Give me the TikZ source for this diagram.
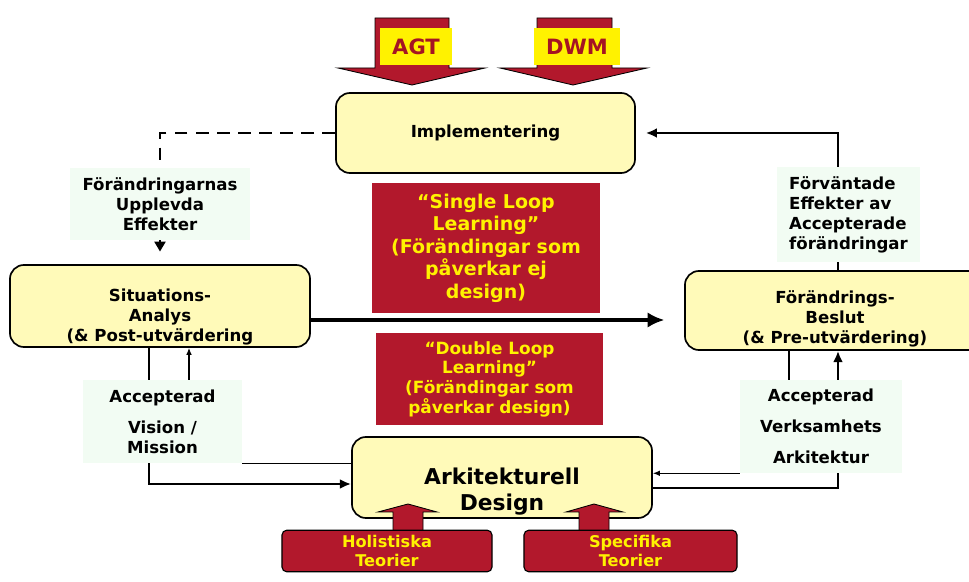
\documentclass[tikz,border=0pt]{standalone}
\usepackage{fontspec}
\setmainfont{DejaVu Sans}
\usetikzlibrary{arrows.meta}

\definecolor{boxyellow}{RGB}{255,250,185}
\definecolor{loopred}{RGB}{178,24,44}
\definecolor{notegreen}{RGB}{242,252,243}
\definecolor{tagred}{RGB}{165,20,35}

\begin{document}
\begin{tikzpicture}[x=0.025cm, y=-0.025cm,
    main/.style = {draw, line width=1.2pt, fill=boxyellow, rounded corners=0.35cm, minimum width=7.5cm, minimum height=2cm, align=center, font=\bfseries\fontsize{11.8}{14.2}\selectfont},
    note/.style = {fill=notegreen, align=center, font=\bfseries\fontsize{11.8}{14.2}\selectfont},
    loop/.style = {fill=loopred, text=yellow, align=center},
    theory/.style = {draw, line width=0.8pt, fill=loopred, rounded corners=0.12cm, minimum width=5.25cm, minimum height=0.8cm, text=yellow, align=center, font=\bfseries\fontsize{11.5}{14}\selectfont},
    tag/.style = {fill=yellow, text=tagred, minimum height=0.925cm, font=\bfseries\fontsize{15}{18}\selectfont},
    blockarrow/.style = {draw, line width=0.6pt, fill=loopred},
    weak/.style = {line width=0.8pt},
    strong/.style = {line width=2pt},
    >={Latex[length=8pt,width=7pt]}]
                \useasboundingbox (0,0) rectangle (969,582);

                % input arrows on top
                \draw[blockarrow] (375,18) -- (449,18) -- (449,68) -- (485,68) -- (412,85) -- (338,68) -- (375,68) -- cycle;
                \draw[blockarrow] (537,18) -- (612,18) -- (612,68) -- (647,68) -- (573,85) -- (500,68) -- (537,68) -- cycle;
                \node[tag, minimum width=1.8cm] at (416,46.5) (agt) {AGT};
                \node[tag, minimum width=2.15cm] at (577,46.5) (dwm) {DWM};

                \node[main, minimum width=7.475cm] at (485.5,133) (impl) {Implementering};
                \node[main, minimum height=2.05cm, text height=50.5pt, text depth=0pt] at (160,306) (sit) {Situations-\\Analys\\(\& Post-utvärdering};
                \node[main, minimum height=1.975cm, text height=47pt, text depth=0pt] at (835,310.5) (foer) {Förändrings-\\Beslut\\(\& Pre-utvärdering)};
                \node[main, minimum height=2.025cm, text height=46.5pt, text depth=0pt, font=\bfseries\fontsize{15.5}{18}\selectfont] at (502,477.5) (ark) {Arkitekturell\\Design};

                \node[loop, minimum width=5.7cm, minimum height=3.25cm, font=\bfseries\fontsize{13.5}{16}\selectfont] at (486,248) (single) {“Single Loop\\Learning”\\(Förändingar som\\påverkar ej\\design)};
                \node[loop, minimum width=5.675cm, minimum height=2.3cm, font=\bfseries\fontsize{12}{14}\selectfont] at (489.5,379) (double) {“Double Loop\\Learning”\\(Förändingar som\\påverkar design)};

                \node[note, minimum width=4.5cm, minimum height=1.8cm] at (160,204) (upl) {Förändringarnas\\Upplevda\\Effekter};
                \node[note, minimum width=3.575cm, minimum height=2.375cm, align=left] at (848.5,214.5) (exp) {Förväntade\\Effekter av\\Accepterade\\förändringar};
                \node[note, minimum width=3.975cm, minimum height=2.075cm] at (162.5,421.5) (vis) {Accepterad\\[8pt]Vision /\\Mission};
                \node[note, minimum width=4.05cm, minimum height=2.325cm] at (821,426.5) (verk) {Accepterad\\[8pt]Verksamhets\\[8pt]Arkitektur};

                % theory arrows into design
                \draw[blockarrow] (393,535) -- (393,512) -- (378,512) -- (408,504) -- (437,512) -- (423,512) -- (423,535) -- cycle;
                \draw[blockarrow] (579,535) -- (579,512) -- (566,512) -- (594,504) -- (623,512) -- (609,512) -- (609,535) -- cycle;
                \node[theory] at (387,551) (hol) {Holistiska\\Teorier};
                \node[theory, minimum width=5.325cm] at (630.5,551) (spec) {Specifika\\Teorier};

                \coordinate (lx) at (149,0);
                \coordinate (lt) at (189,0);
                \coordinate (rx) at (838,0);
                \coordinate (rt) at (789,0);
                \coordinate (my) at (0,320);
                \coordinate (ly) at (0,484);
                \coordinate (ry) at (0,488);

                \draw [strong, dash pattern=on 9pt off 6pt] (impl.west) -| (upl.north);
                \draw [-{Triangle[length=7pt,width=8pt]}, line width=1pt, shorten >=9pt] (upl.south) -- (sit.north);
                \draw [->, strong, shorten >=7pt] (exp.north -| rx) |- (impl.east);
                \draw [strong] (foer.north -| rx) -- (exp.south -| rx);
                \draw [-{Latex[length=12pt,width=11pt]}, line width=3pt, shorten >=14pt] (sit.east |- my) -- (foer.west |- my);

                \draw [strong] (sit.south -| lx) -- (vis.north -| lx);
                \draw [-{Latex[length=5pt,width=4pt]}, weak] (vis.north -| lt) -- (sit.south -| lt);
                \draw [->, strong] (vis.south -| lx) |- (ark.west |- ly);
                \draw [weak] (vis.south east) -- (vis.south east -| ark.west);

                \draw [weak] (foer.south -| rt) -- (verk.north -| rt);
                \draw [->, strong] (verk.north -| rx) -- (foer.south -| rx);
                \draw [-{Latex[length=5pt,width=4pt]}, weak] (verk.south west) -- (verk.south west -| ark.east);
                \draw [strong] (verk.south -| rx) |- (ark.east |- ry);
                \end{tikzpicture}
\end{document}
